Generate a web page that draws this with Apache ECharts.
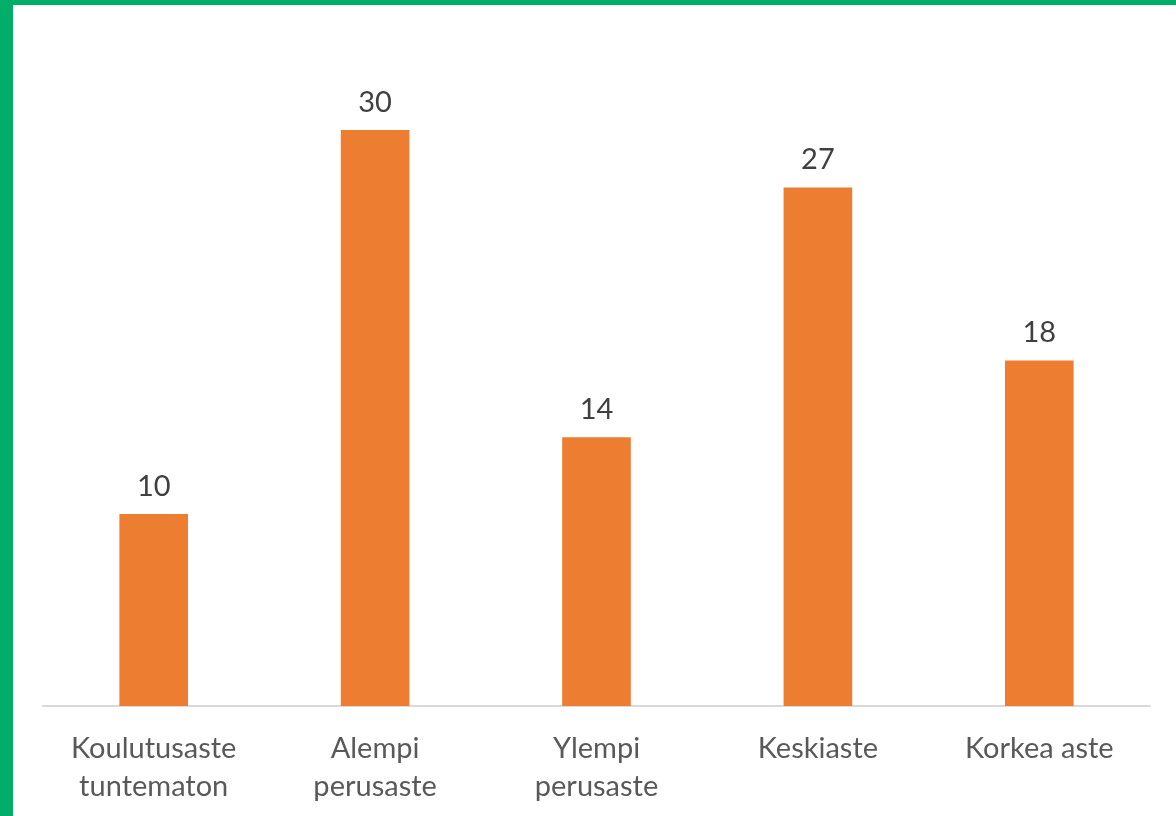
<!DOCTYPE html>
<html>
<head>
<meta charset="utf-8">
<style>
  html, body { margin: 0; padding: 0; background: #fff; }
  #wrap { position: relative; width: 1176px; height: 816px; box-sizing: border-box;
          border-left: 13px solid #00ad69; border-top: 5px solid #00ad69; }
  #chart { position: absolute; left: -13px; top: -5px; width: 1176px; height: 816px; }
</style>
<script src="https://cdn.jsdelivr.net/npm/echarts@6/dist/echarts.min.js"></script>
</head>
<body>
<div id="wrap"><div id="chart"></div></div>
<script>
const categories = ["Koulutusaste\ntuntematon", "Alempi\nperusaste", "Ylempi\nperusaste", "Keskiaste", "Korkea aste"];
const values = [10, 30, 14, 27, 18];

const chart = echarts.init(document.getElementById("chart"));
chart.setOption({
  animation: false,
  grid: { left: 43, right: 26, top: 130, bottom: 110, containLabel: false },
  xAxis: {
    type: "category",
    data: categories,
    axisLine: { lineStyle: { color: "#d9d9d9", width: 2 } },
    axisTick: { show: false },
    axisLabel: {
      color: "#595959",
      fontFamily: "Lato",
      fontSize: 29,
      lineHeight: 38,
      margin: 24
    }
  },
  yAxis: {
    type: "value",
    min: 0,
    max: 30,
    show: false,
    splitLine: { show: false }
  },
  series: [
    {
      type: "bar",
      data: values,
      barWidth: "31%",
      itemStyle: { color: "#ed7d31" },
      label: {
        show: true,
        position: "top",
        distance: 13,
        color: "#404040",
        fontFamily: "Lato",
        fontSize: 29
      }
    }
  ]
});
</script>
</body>
</html>
